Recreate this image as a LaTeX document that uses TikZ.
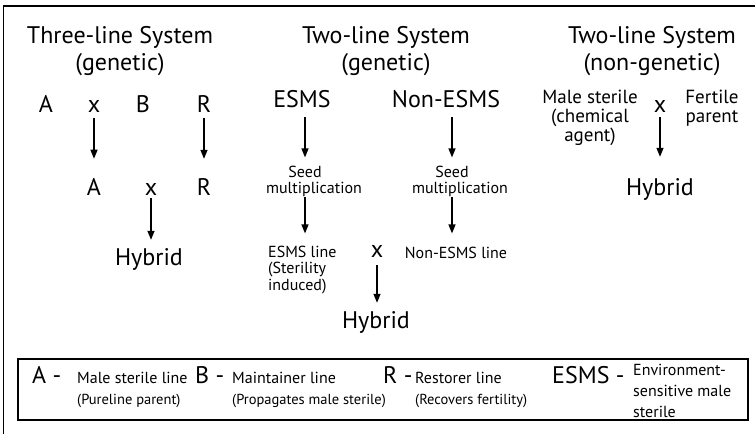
\documentclass[tikz,border=0pt]{standalone}
\usepackage{fontspec}
\setmainfont{PT Sans}
\usetikzlibrary{arrows.meta}
\begin{document}
\begin{tikzpicture}[x=1pt,y=-1pt,
  big/.style={font=\fontsize{24}{27}\selectfont, inner sep=0pt},
  med/.style={font=\fontsize{19}{19}\selectfont, inner sep=0pt},
  sml/.style={font=\fontsize{16}{16.5}\selectfont, inner sep=0pt},
  leg/.style={font=\fontsize{16}{21}\selectfont, inner sep=0pt, anchor=base west},
  legsub/.style={font=\fontsize{14.5}{21}\selectfont, inner sep=0pt, anchor=base west},
  legbig/.style={font=\fontsize{24}{27}\selectfont, inner sep=0pt, anchor=base west},
  arr/.style={-{Triangle[length=9pt,width=7pt]}, line width=1.3pt},
  frame/.style={line width=1.6pt}]
\useasboundingbox (0,0) rectangle (755,434);
\draw[frame] (3.5,434) -- (3.5,6) -- (755,6);

% Three-line system
\node[big, align=center, anchor=base] (t1) at (120,70) {Three-line System\\(genetic)};
\node[big, anchor=base] (a1) at (46,112) {A};
\node[big, anchor=base] (x1) at (94,112) {x};
\node[big, anchor=base] (b1) at (143,112) {B};
\node[big, anchor=base] (r1) at (204,112) {R};
\node[big, anchor=base] (a2) at (94,195) {A};
\node[big, anchor=base] (x2) at (151,195) {x};
\node[big, anchor=base] (r2) at (204,195) {R};
\node[big, anchor=base] (h1) at (149,265) {Hybrid};
\draw[arr, shorten <=6pt, shorten >=19pt] (x1.south) -- (a2.north);
\draw[arr, shorten <=6pt, shorten >=19pt] (r1.south) -- (r2.north);
\draw[arr, shorten <=3pt, shorten >=8pt] (x2.south) -- (x2.south |- h1.north);

% Two-line system (genetic)
\node[big, align=center, anchor=base] (t2) at (386,70) {Two-line System\\(genetic)};
\node[big, anchor=base] (esms) at (302,107) {ESMS};
\node[big, anchor=base] (nesms) at (446,107) {Non-ESMS};
\node[sml, anchor=base] (seedl) at (305,177) {Seed};
\node[sml, anchor=base] (multl) at (314,193) {multiplication};
\node[sml, anchor=base] (seedr) at (452,177) {Seed};
\node[sml, anchor=base] (multr) at (460,193) {multiplication};
\node[sml, align=left, anchor=base west] (esmsline) at (268,290) {ESMS line\\(Sterility\\induced)};
\node[big, anchor=base] (xm) at (377,257) {x};
\node[big, anchor=base] (h2) at (376,328) {Hybrid};
\node[sml, anchor=base] (nline) at (456,258) {Non-ESMS line};
\draw[arr, shorten <=10pt, shorten >=8pt] (seedl.north |- esms.south) -- (seedl.north);
\draw[arr, shorten <=1pt, shorten >=12pt] (seedl.north |- multl.south) -- (seedl.north |- esmsline.north);
\draw[arr, shorten <=10pt, shorten >=8pt] (seedr.north |- nesms.south) -- (seedr.north);
\draw[arr, shorten <=1pt, shorten >=13pt] (seedr.north |- multr.south) -- (seedr.north |- nline.north);
\draw[arr, shorten <=8pt, shorten >=8pt] (xm.south) -- (xm.south |- h2.north);

% Two-line system (non-genetic)
\node[big, align=center, anchor=base] (t3) at (652,70) {Two-line System\\(non-genetic)};
\node[med, align=center, anchor=base] (ms) at (590,141) {Male sterile\\(chemical\\agent)};
\node[big, anchor=base] (xr) at (660,112) {x};
\node[med, align=center, anchor=base] (fp) at (712,122) {Fertile\\parent};
\node[big, anchor=base] (h3) at (660,195) {Hybrid};
\draw[arr, shorten <=5pt, shorten >=21pt] (xr.south) -- (xr.south |- h3.north);

% Legend
\draw[line width=1.3pt] (18,359) rectangle (748,420);
\node[legbig] (la) at (32,383) {A -};
\node[leg] (lat) at (77,383) {Male sterile line};
\node[legsub] (las) at (77,404) {(Pureline parent)};
\node[legbig] (lb) at (195,383) {B -};
\node[leg] (lbt) at (232,383) {Maintainer line};
\node[legsub] (lbs) at (232,404) {(Propagates male sterile)};
\node[legbig] (lr) at (383,383) {R -};
\node[leg] (lrt) at (415,383) {Restorer line};
\node[legsub] (lrs) at (415,404) {(Recovers fertility)};
\node[legbig] (le) at (552,383) {ESMS -};
\node[leg, align=left] (let) at (633,417) {Environment-\\sensitive male\\sterile};
\end{tikzpicture}
\end{document}
